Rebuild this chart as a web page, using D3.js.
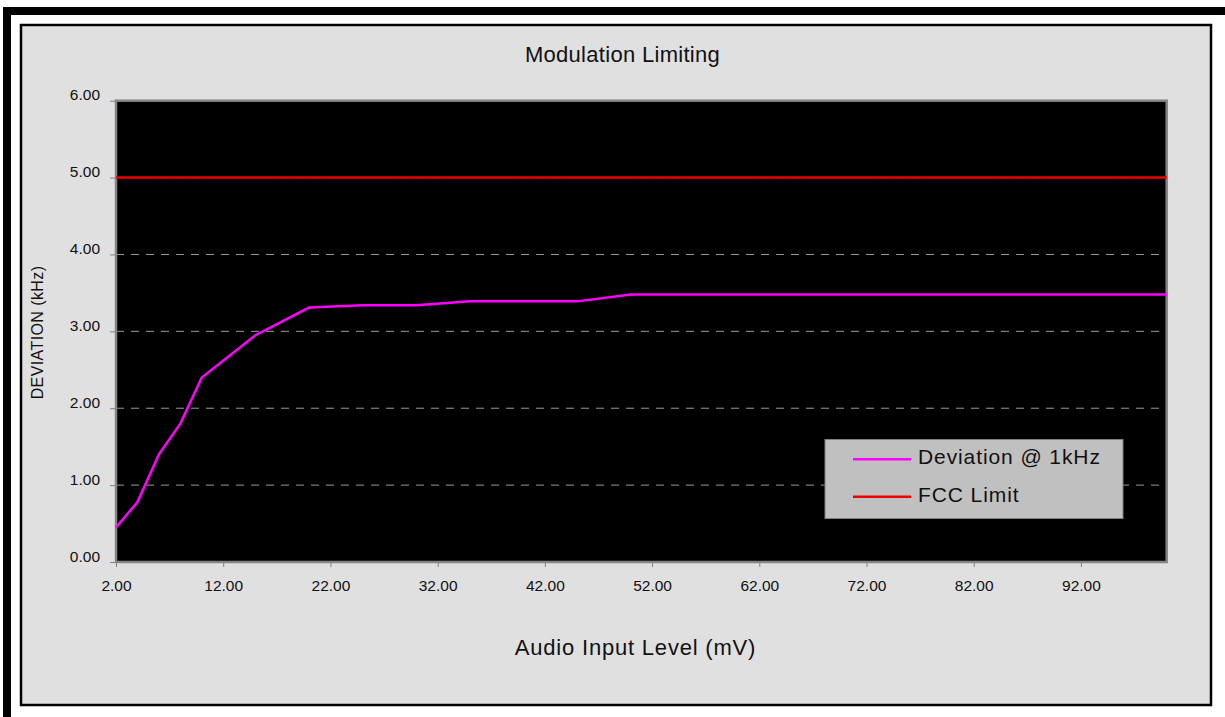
<!DOCTYPE html>
<html>
<head>
<meta charset="utf-8">
<script src="https://cdn.jsdelivr.net/npm/d3@7"></script>
<style>
  body { margin: 0; background: #fff; }
  text { font-family: Arial, "Liberation Sans", sans-serif; fill: #111; }
</style>
</head>
<body>
<script>
// data
let inputLevel = [2, 4, 6, 8, 10, 15, 20, 25, 30, 35, 40, 45, 50, 60, 70, 80, 90, 100]
let deviation = [0.45, 0.78, 1.40, 1.80, 2.40, 2.95, 3.31, 3.34, 3.34, 3.39, 3.39, 3.39, 3.48, 3.48, 3.48, 3.48, 3.48, 3.48]
let fccLimit = [5, 5, 5, 5, 5, 5, 5, 5, 5, 5, 5, 5, 5, 5, 5, 5, 5, 5]
let xTicks = [2, 12, 22, 32, 42, 52, 62, 72, 82, 92]
let yTicks = [0, 1, 2, 3, 4, 5, 6]
let seriesNames = ['Deviation @ 1kHz', 'FCC Limit']
let seriesColors = ['#ff00ff', '#ee0000']

let width = 1225;
let height = 717;

let svg = d3.select('body')
  .append('svg')
  .attr('width', width)
  .attr('height', height);

// outer frame (cut at right / bottom)
svg.append('rect').attr('x', 3).attr('y', 7).attr('width', width).attr('height', 8).attr('fill', '#000')
svg.append('rect').attr('x', 3).attr('y', 7).attr('width', 8).attr('height', height).attr('fill', '#000')

// chart area
svg.append('rect')
  .attr('x', 21).attr('y', 25)
  .attr('width', 1190).attr('height', 680)
  .attr('fill', '#e0e0e0')
  .attr('stroke', '#000')
  .attr('stroke-width', 2.5)

let plot = { left: 116, top: 100.7, right: 1166.7, bottom: 562 }

let x = d3.scaleLinear().domain([2, 100]).range([plot.left, plot.right])
let y = d3.scaleLinear().domain([0, 6]).range([plot.bottom, plot.top])

svg.append('rect')
  .attr('x', plot.left).attr('y', plot.top)
  .attr('width', plot.right - plot.left).attr('height', plot.bottom - plot.top)
  .attr('fill', '#000')

// gridlines
svg.append('g')
  .selectAll('line')
  .data(yTicks.filter(d => d > 0 && d < 6))
  .enter().append('line')
  .attr('x1', plot.left).attr('x2', plot.right)
  .attr('y1', d => y(d)).attr('y2', d => y(d))
  .attr('stroke', '#9a9a9a')
  .attr('stroke-width', 1)
  .attr('stroke-dasharray', '8,7')

// axes
let xAxis = svg.append('g')
  .attr('transform', 'translate(0,' + plot.bottom + ')')
  .call(d3.axisBottom(x).tickValues(xTicks).tickFormat(d3.format('.2f')).tickSize(5).tickPadding(13))
let yAxis = svg.append('g')
  .attr('transform', 'translate(' + plot.left + ',0)')
  .call(d3.axisLeft(y).tickValues(yTicks).tickFormat(d3.format('.2f')).tickSize(6).tickPadding(10))

;[xAxis, yAxis].forEach(a => {
  a.select('.domain').remove()
  a.selectAll('.tick line').attr('stroke', '#808080')
  a.selectAll('.tick text').style('font-size', '15.5px').attr('fill', '#111')
})
yAxis.selectAll('.tick text').attr('dy', '-0.05em')

// plot border
svg.append('rect')
  .attr('x', plot.left).attr('y', plot.top)
  .attr('width', plot.right - plot.left).attr('height', plot.bottom - plot.top)
  .attr('fill', 'none')
  .attr('stroke', '#858585')
  .attr('stroke-width', 2.5)

// lines
let line = d3.line()
  .x((d, i) => x(inputLevel[i]))
  .y(d => y(d))

svg.append('path')
  .datum(fccLimit)
  .attr('d', line)
  .attr('fill', 'none')
  .attr('stroke', seriesColors[1])
  .attr('stroke-width', 2.5)

svg.append('path')
  .datum(deviation)
  .attr('d', line)
  .attr('fill', 'none')
  .attr('stroke', seriesColors[0])
  .attr('stroke-width', 2.5)

// legend
svg.append('rect')
  .attr('x', 825).attr('y', 439.5)
  .attr('width', 298).attr('height', 79)
  .attr('fill', '#c0c0c0')
  .attr('stroke', '#808080')
  .attr('stroke-width', 1)

let legend = svg.append('g')
  .selectAll('g')
  .data(seriesNames)
  .enter().append('g')
  .attr('transform', (d, i) => 'translate(853,' + (459.3 + i * 37.4) + ')')

legend.append('line')
  .attr('x1', 0).attr('x2', 58)
  .attr('stroke', (d, i) => seriesColors[i])
  .attr('stroke-width', 2.5)

legend.append('text')
  .attr('x', 65).attr('y', 5)
  .style('font-size', '21px')
  .style('letter-spacing', '0.9px')
  .text(d => d)

// titles
svg.append('text')
  .attr('x', 622.5).attr('y', 62)
  .attr('text-anchor', 'middle')
  .style('font-size', '22px')
  .style('letter-spacing', '0.3px')
  .text('Modulation Limiting')

svg.append('text')
  .attr('x', 635.5).attr('y', 655)
  .attr('text-anchor', 'middle')
  .style('font-size', '22px')
  .style('letter-spacing', '0.8px')
  .text('Audio Input Level (mV)')

svg.append('text')
  .attr('transform', 'translate(43,332.5) rotate(-90)')
  .attr('text-anchor', 'middle')
  .style('font-size', '16px')
  .style('letter-spacing', '0.4px')
  .text('DEVIATION (kHz)')
</script>
</body>
</html>
